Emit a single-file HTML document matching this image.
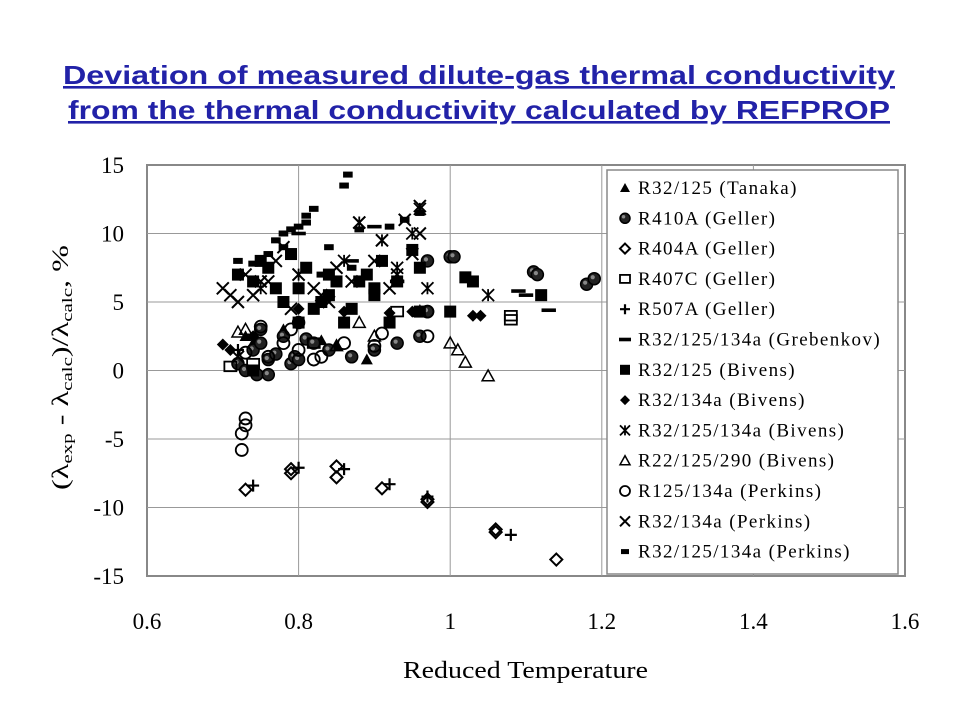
<!DOCTYPE html>
<html><head><meta charset="utf-8"><style>
body{margin:0;background:#fff;width:960px;height:720px;overflow:hidden}
svg{display:block}
</style></head><body>
<svg id="chart" width="960" height="720" xmlns="http://www.w3.org/2000/svg">
<text x="63" y="84" textLength="832" lengthAdjust="spacingAndGlyphs" font-family="Liberation Sans, sans-serif" font-weight="bold" font-size="26" fill="#2222a8" text-decoration="underline">Deviation of measured dilute-gas thermal conductivity </text>
<text x="68" y="119" textLength="822" lengthAdjust="spacingAndGlyphs" font-family="Liberation Sans, sans-serif" font-weight="bold" font-size="26" fill="#2222a8" text-decoration="underline">from the thermal conductivity calculated by REFPROP</text>
<g id="grid"></g><g id="axes"></g><g id="marks"></g><g id="legend"></g>
<text x="403" y="678" textLength="245" lengthAdjust="spacingAndGlyphs" font-family="Liberation Serif, serif" font-size="24">Reduced Temperature</text>
<text transform="translate(68,490) rotate(-90)" textLength="245" lengthAdjust="spacingAndGlyphs" font-family="Liberation Serif, serif" font-size="23">(λ<tspan font-size="15" dy="4">exp</tspan><tspan dy="-4"> - λ</tspan><tspan font-size="15" dy="4">calc</tspan><tspan dy="-4">)/λ</tspan><tspan font-size="15" dy="4">calc</tspan><tspan dy="-4">, %</tspan></text>
</svg>
<script>
const xTicks=[0.6,0.8,1.0,1.2,1.4,1.6];
const yTicks=[15,10,5,0,-5,-10,-15];
const seriesNames=["R32/125 (Tanaka)","R410A (Geller)","R404A (Geller)","R407C (Geller)","R507A (Geller)","R32/125/134a (Grebenkov)","R32/125 (Bivens)","R32/134a (Bivens)","R32/125/134a (Bivens)","R22/125/290 (Bivens)","R125/134a (Perkins)","R32/134a (Perkins)","R32/125/134a (Perkins)"];
const seriesMarkers=["tri","dotcircle","diamond","square","plus","dash","fsquare","fdiamond","star","otri","circle","cross","smallsq"];
const tanakaX=[0.73,0.74,0.85,0.89,0.78,0.83];
const tanakaY=[2.5,2.0,1.8,0.8,3.0,2.2];
const r410aX=[0.72,0.73,0.74,0.745,0.75,0.76,0.77,0.78,0.79,0.795,0.8,0.81,0.82,0.84,0.87,0.9,0.93,0.96,0.97,0.97,1.0,1.005,1.11,1.115,1.18,1.19,0.75,0.76,0.8];
const r410aY=[0.5,0,1.5,-0.3,2.0,0.8,1.2,2.5,0.5,1.0,0.8,2.3,2.0,1.5,1.0,1.5,2.0,2.5,4.3,8.0,8.3,8.3,7.2,7.0,6.3,6.7,3.0,-0.3,3.5];
const r404aX=[0.73,0.79,0.79,0.85,0.85,0.91,0.97,0.97,1.06,1.06,1.14];
const r404aY=[-8.7,-7.5,-7.2,-7.0,-7.8,-8.6,-9.6,-9.4,-11.6,-11.8,-13.8];
const r407cX=[0.71,0.93,1.08,1.08,0.82,0.74];
const r407cY=[0.3,4.3,3.7,4.0,2.0,0.5];
const r507aX=[0.74,0.8,0.86,0.92,0.97,1.08,0.72];
const r507aY=[-8.4,-7.1,-7.2,-8.3,-9.2,-12.0,1.5];
const grebX=[1.09,1.13,1.1,0.9,0.87,0.8,0.93];
const grebY=[5.8,4.4,5.5,10.5,8.0,10.0,6.5];
const b125X=[0.72,0.74,0.75,0.76,0.77,0.78,0.79,0.8,0.81,0.82,0.83,0.84,0.85,0.86,0.87,0.88,0.89,0.9,0.91,0.92,0.95,0.96,0.96,1.0,1.02,1.03,1.12,0.74,0.8,0.84,0.9,0.93];
const b125Y=[7.0,6.5,8.0,7.5,6.0,5.0,8.5,6.0,7.5,4.5,5.0,7.0,6.5,3.5,4.5,6.5,7.0,5.5,8.0,3.5,8.8,7.5,4.3,4.3,6.8,6.5,5.5,0,3.5,5.5,6.0,6.5];
const b134X=[0.7,0.71,0.74,0.95,1.03,1.04,0.92,0.86,0.8];
const b134Y=[1.9,1.5,2.5,4.3,4.0,4.0,4.2,4.3,4.5];
const b3X=[0.96,0.97,1.05,0.91,0.88,0.95,0.75,0.8,0.86,0.93];
const b3Y=[11.8,6.0,5.5,9.5,10.8,10.0,6.0,7.0,8.0,7.5];
const b290X=[0.72,0.73,0.88,0.96,1.0,1.01,1.02,1.05,0.85,0.9];
const b290Y=[2.8,3.0,3.5,4.3,2.0,1.5,0.6,-0.4,1.8,2.5];
const pkX=[0.725,0.725,0.73,0.73,0.73,0.76,0.78,0.8,0.83,0.86,0.9,0.91,0.97,0.97,0.75,0.79,0.82];
const pkY=[-5.8,-4.6,-4.0,-3.5,1.3,1.0,2.0,1.5,1.0,2.0,1.8,2.7,2.5,4.3,3.2,3.0,0.8];
const p134X=[0.7,0.71,0.72,0.73,0.75,0.77,0.78,0.8,0.82,0.84,0.85,0.87,0.88,0.9,0.91,0.92,0.93,0.94,0.96,0.96,0.95,0.72,0.74,0.76,0.79,0.83];
const p134Y=[6.0,5.5,5.0,7.0,6.5,8.0,9.0,7.0,6.0,5.0,7.5,6.5,10.8,8.0,9.5,6.0,7.0,11.0,12.0,10.0,8.5,1.0,5.5,6.5,4.5,5.5];
const p3X=[0.865,0.86,0.82,0.81,0.81,0.78,0.79,0.8,0.72,0.74,0.76,0.78,0.84,0.87,0.88,0.92,0.94,0.96,0.83,0.77];
const p3Y=[14.3,13.5,11.8,11.3,10.8,10.0,10.3,10.5,8.0,7.8,8.5,9.0,9.0,7.5,10.3,10.5,11.0,11.5,7.0,9.5];
const seriesX=[tanakaX,r410aX,r404aX,r407cX,r507aX,grebX,b125X,b134X,b3X,b290X,pkX,p134X,p3X];
const seriesY=[tanakaY,r410aY,r404aY,r407cY,r507aY,grebY,b125Y,b134Y,b3Y,b290Y,pkY,p134Y,p3Y];

const NS="http://www.w3.org/2000/svg";
const X0=147,X1=905,Y0=165,Y1=576;
const xs=v=>X0+(v-0.6)/1.0*(X1-X0);
const ys=v=>Y0+(15-v)/30*(Y1-Y0);
function mk(tag,at,parent){const e=document.createElementNS(NS,tag);for(const k in at)e.setAttribute(k,at[k]);parent.appendChild(e);return e;}
const grid=document.getElementById('grid'),axes=document.getElementById('axes'),marks=document.getElementById('marks'),legend=document.getElementById('legend');
mk('rect',{x:X0,y:Y0,width:X1-X0,height:Y1-Y0,fill:'#fff',stroke:'#888','stroke-width':2},grid);
xTicks.slice(1,-1).forEach(t=>{const l=mk('line',{x1:xs(t),x2:xs(t),y1:Y0,y2:Y1,stroke:'#999','stroke-width':1},grid);

});
yTicks.slice(1,-1).forEach(t=>{const l=mk('line',{x1:X0,x2:X1,y1:ys(t),y2:ys(t),stroke:'#999','stroke-width':1},grid);

});
xTicks.forEach(t=>{const e=mk('text',{x:xs(t),y:629,'text-anchor':'middle','font-family':'Liberation Serif, serif','font-size':23},axes);e.textContent=(t===1?'1':t.toFixed(1));

});
yTicks.forEach(t=>{const e=mk('text',{x:124,y:ys(t)+8,'text-anchor':'end','font-family':'Liberation Serif, serif','font-size':23},axes);e.textContent=String(t);

});
function marker(type,cx,cy,p,s){
 s=s||5;const g=mk('g',{},p);
 switch(type){
 case 'tri':mk('polygon',{points:`${cx},${cy-s} ${cx-s},${cy+s*0.8} ${cx+s},${cy+s*0.8}`,fill:'#000'},g);break;
 case 'otri':mk('polygon',{points:`${cx},${cy-s} ${cx-s},${cy+s*0.8} ${cx+s},${cy+s*0.8}`,fill:'none',stroke:'#000','stroke-width':1.5},g);break;
 case 'dotcircle':mk('circle',{cx,cy,r:s,fill:'#222',stroke:'#000','stroke-width':1.5},g);mk('circle',{cx:cx-1.5,cy:cy-1.5,r:s*0.35,fill:'#888'},g);break;
 case 'circle':mk('circle',{cx,cy,r:s,fill:'none',stroke:'#000','stroke-width':1.8},g);break;
 case 'diamond':mk('polygon',{points:`${cx},${cy-s} ${cx+s},${cy} ${cx},${cy+s} ${cx-s},${cy}`,fill:'none',stroke:'#000','stroke-width':2},g);break;
 case 'fdiamond':mk('polygon',{points:`${cx},${cy-s} ${cx+s},${cy} ${cx},${cy+s} ${cx-s},${cy}`,fill:'#000'},g);break;
 case 'square':mk('rect',{x:cx-s,y:cy-s*0.8,width:2*s,height:1.6*s,fill:'none',stroke:'#000','stroke-width':1.8},g);break;
 case 'fsquare':mk('rect',{x:cx-s,y:cy-s,width:2*s,height:2*s,fill:'#000'},g);break;
 case 'smallsq':mk('rect',{x:cx-s*0.8,y:cy-s*0.5,width:1.6*s,height:s,fill:'#000'},g);break;
 case 'plus':mk('path',{d:`M${cx-s} ${cy}H${cx+s}M${cx} ${cy-s}V${cy+s}`,stroke:'#000','stroke-width':2.2},g);break;
 case 'dash':mk('rect',{x:cx-s*1.2,y:cy-1.8,width:2.4*s,height:3.6,fill:'#000'},g);break;
 case 'cross':mk('path',{d:`M${cx-s} ${cy-s}L${cx+s} ${cy+s}M${cx-s} ${cy+s}L${cx+s} ${cy-s}`,stroke:'#000','stroke-width':2},g);break;
 case 'star':mk('path',{d:`M${cx-s} ${cy-s}L${cx+s} ${cy+s}M${cx-s} ${cy+s}L${cx+s} ${cy-s}M${cx} ${cy-s}V${cy+s}`,stroke:'#000','stroke-width':1.8},g);break;
 }
 return g;
}
seriesX.forEach((arr,i)=>{arr.forEach((x,j)=>{const g=marker(seriesMarkers[i],xs(x),ys(seriesY[i][j]),marks,6);

});});
const lb=mk('rect',{x:607,y:170,width:291,height:404,fill:'#fff',stroke:'#888','stroke-width':1.5},legend);


seriesNames.forEach((n,i)=>{const y=187+i*30.3;const g=mk('g',{},legend);


marker(seriesMarkers[i],625,y+1,g,5);
const t=mk('text',{x:638,y:y+7,'font-family':'Liberation Serif, serif','font-size':19,'letter-spacing':'1.4'},g);t.textContent=n;});
</script>
</body></html>
